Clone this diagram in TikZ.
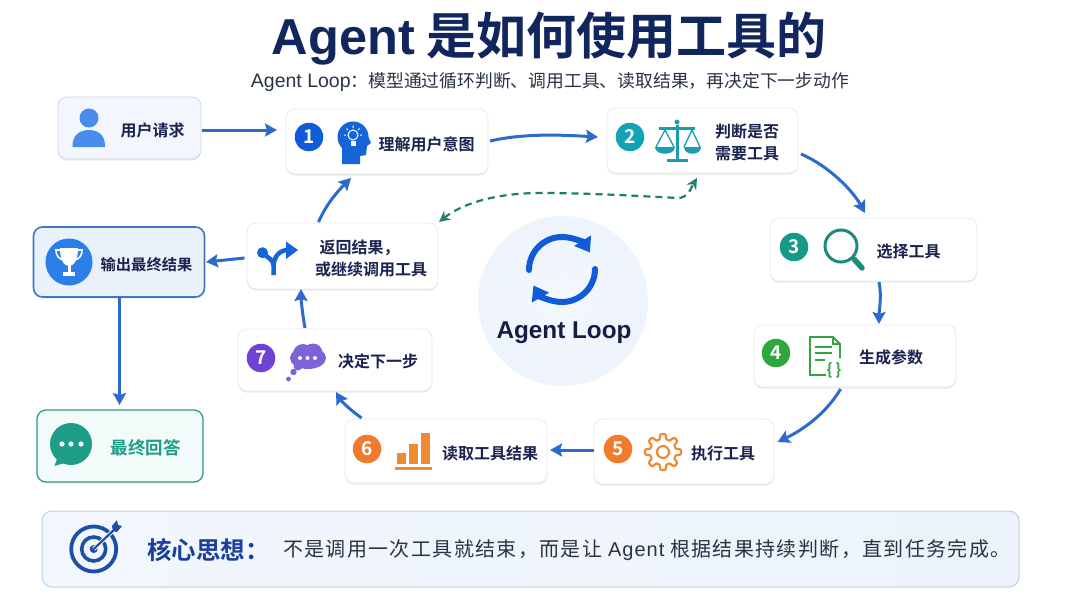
\documentclass[tikz,border=0pt]{standalone}
\usepackage{fontspec}
\setmainfont{Noto Sans CJK SC}[BoldFont={Noto Sans CJK SC Bold}]
\newfontfamily\latinf{Liberation Sans}
\newfontfamily\spacedf{Noto Sans CJK SC}[LetterSpace=6.8]
\newfontfamily\spacedlat{Liberation Sans}[LetterSpace=5]
\newcommand{\fwcomma}{\char"FF0C\relax}
\newcommand{\fwcolon}{\char"FF1A\relax}
\usetikzlibrary{arrows.meta,shadows,calc}
\definecolor{navy}{HTML}{1B2350}
\definecolor{titlec}{HTML}{12265E}
\definecolor{loopc}{HTML}{161D45}
\definecolor{subc}{HTML}{2A3345}
\definecolor{flow}{HTML}{2C6BCB}
\definecolor{dashc}{HTML}{1F7F6C}
\definecolor{c1}{HTML}{0F5BD8}
\definecolor{c2}{HTML}{12A3B5}
\definecolor{c3}{HTML}{149A86}
\definecolor{c4}{HTML}{2EA83E}
\definecolor{c5}{HTML}{F07B2C}
\definecolor{c7}{HTML}{6F42D6}
\definecolor{iconb}{HTML}{1565D8}
\definecolor{icont}{HTML}{1A9DAF}
\definecolor{iconm}{HTML}{1E8A7A}
\definecolor{icond}{HTML}{36A24A}
\definecolor{icono}{HTML}{EE8A33}
\definecolor{iconp}{HTML}{7C63DA}
\definecolor{icont2}{HTML}{1E9E86}
\definecolor{target}{HTML}{1E4FA8}
\definecolor{discout}{HTML}{EEF4FC}
\definecolor{discin}{HTML}{F3F7FD}
\definecolor{userfill}{HTML}{F3F7FD}
\definecolor{userline}{HTML}{CBD8EA}
\definecolor{outfill}{HTML}{E9F1FB}
\definecolor{outline}{HTML}{3F78C6}
\definecolor{finalfill}{HTML}{F3FAFA}
\definecolor{finalline}{HTML}{2E9C8A}
\definecolor{banline}{HTML}{B7D3E4}
\definecolor{banl}{HTML}{F1F7FC}
\definecolor{banr}{HTML}{EDF3FB}
\definecolor{banhead}{HTML}{1A3F9E}
\definecolor{usericon}{HTML}{4A8CEB}
\definecolor{trophyc}{HTML}{2C7FE8}
\tikzset{
  box/.style={draw=black!8,line width=.8pt,fill=white,rounded corners=9pt,inner sep=0pt,outer sep=0pt,
    drop shadow={shadow xshift=0pt,shadow yshift=-1.6pt,fill=black!40,opacity=.22}},
  badge/.style={circle,fill=#1,text=white,font=\bfseries\fontsize{19}{19}\selectfont,minimum size=28.5pt,inner sep=0pt},
  lbl/.style={text=navy,font=\bfseries\fontsize{16}{22}\selectfont,inner sep=0pt,yshift=-1pt},
  flowline/.style={draw=flow,line width=3pt,-{Stealth[length=12pt,width=13pt,inset=2pt]}},
}
\begin{document}
\begin{tikzpicture}[x=1pt,y=-1pt]
\useasboundingbox (0,0) rectangle (1080,608);
\fill[white] (0,0) rectangle (1080,608);
% centre disc
\node[circle,minimum size=170pt,inner sep=0pt,inner color=discin,outer color=discout] (disc) at (563,301) {};
% boxes
\node[box,draw=userline,fill=userfill,minimum width=143pt,minimum height=62pt] (user) at (129.5,128) {};
\node[box,minimum width=202pt,minimum height=65pt] (n1) at (387,141.5) {};
\node[box,minimum width=191pt,minimum height=65pt] (n2) at (702.5,140.5) {};
\node[box,minimum width=207pt,minimum height=63pt] (n3) at (873.5,249.5) {};
\node[box,minimum width=202pt,minimum height=62pt] (n4) at (855,356) {};
\node[box,minimum width=180pt,minimum height=65pt] (n5) at (684,451.5) {};
\node[box,minimum width=202pt,minimum height=64pt] (n6) at (446,451) {};
\node[box,minimum width=194pt,minimum height=62pt] (n7) at (335,360) {};
\node[box,minimum width=191pt,minimum height=66pt] (ret) at (342.5,256) {};
\node[box,draw=outline,line width=1.6pt,fill=outfill,minimum width=171pt,minimum height=70pt] (out) at (119,262) {};
\node[box,draw=finalline,line width=1.3pt,fill=finalfill,minimum width=166pt,minimum height=72pt] (final) at (120,446) {};
\node[draw=banline,line width=1pt,rounded corners=10pt,left color=banl,right color=banr,minimum width=977pt,minimum height=76pt,inner sep=0pt] (banner) at (530.5,549) {};
% connectors
\draw[flowline] ([shift={(1,2)}]user.east) -- ([shift={(-9,-11.5)}]n1.west);
\draw[flowline] ([shift={(2,-0.5)}]n1.east) .. controls +(35,-8) and +(-35,-2) .. ([shift={(-9,-3.5)}]n2.west);
\draw[flowline] ([shift={(3,13.5)}]n2.east) .. controls +(28,12) and +(-12,-22) .. ([shift={(-8.5,-5)}]n3.north);
\draw[flowline] ([shift={(5.5,1)}]n3.south) .. controls +(3,14) and +(0,-12) .. ([shift={(24,-1)}]n4.north);
\draw[flowline] ([shift={(-14.4,2)}]n4.south) .. controls +(-15,25) and +(25,-12) .. ([shift={(3.6,-9.5)}]n5.east);
\draw[flowline] ([shift={(0,-1.5)}]n5.west) -- ([shift={(3,-1)}]n6.east);
\draw[flowline] ([shift={(-84.4,-1)}]n6.north) .. controls +(-10,-7) and +(6,10) .. ([shift={(1,1)}]n7.south);
\draw[flowline] ([shift={(-30,-1)}]n7.north) .. controls +(-2,-10) and +(0,10) .. ([shift={(-41.5,0)}]ret.south);
\draw[flowline] ([shift={(-24,-1)}]ret.north) .. controls +(8,-18) and +(-14,14) .. ([shift={(-36,4)}]n1.south);
\draw[flowline] ([shift={(-2.5,2)}]ret.west) -- ([shift={(1.5,0)}]out.east);
\draw[flowline] ([shift={(.5,0)}]out.south) -- ([shift={(-.5,-5)}]final.north);
\coordinate (d1) at (540,193);
\coordinate (d2) at (678,198);
\draw[dashc,line width=2.2pt,dash pattern=on 7pt off 5pt,{Stealth[open,length=11pt,width=11pt]}-{Stealth[open,length=11pt,width=11pt]}]
  ([shift={(1,-1)}]ret.north east) .. controls +(25,-20) and +(-40,0) .. (d1)
  .. controls +(50,0) and +(-40,-2) .. (d2) .. controls +(10,0) and +(-6,10) .. ([shift={(-5.5,5)}]n2.south);
% title
\node[anchor=base,text=titlec,font=\bfseries\fontsize{50}{50}\selectfont,inner sep=0pt] (title) at (549,54.5) {{\latinf\bfseries\fontsize{50.5}{50}\selectfont Agent} 是如何使用工具的};
\node[anchor=base,text=subc,font=\fontsize{17.8}{20}\selectfont,inner sep=0pt] (subtitle) at (550,87.5) {{\latinf\fontsize{19.5}{20}\selectfont Agent Loop}\fwcolon 模型通过循环判断、调用工具、读取结果\fwcomma 再决定下一步动作};
% badges
\node[badge=c1] (b1) at (309,137) {1};
\node[badge=c2] (b2) at (630,137) {2};
\node[badge=c3] (b3) at (794,247) {3};
\node[badge=c4] (b4) at (776,353) {4};
\node[badge=c5] (b5) at (618,449) {5};
\node[badge=c5] (b6) at (367,449) {6};
\node[badge=c7] (b7) at (261,358) {7};
% user icon
\fill[usericon] (89,118) circle[radius=9.5pt];
\fill[usericon] (72.5,147) .. controls (72,135) and (80,130) .. (89,130) .. controls (98,130) and (105.5,135) .. (105,147) -- cycle;
% head icon
\fill[iconb] (353,137) circle[radius=15.5pt];
\fill[iconb] (342,147) -- (342,164) -- (360,164) -- (360,156) -- (366,155) -- (367,146) -- (371,143) -- (367,134) -- cycle;
\draw[white,line width=1pt] (353,135) circle[radius=5pt];
\fill[white] (350.5,141) rectangle (355.5,146);
\draw[white,line width=1pt] (353,125.5) -- (353,128) (344,135) -- (346,135) (360,135) -- (362,135) (346.5,128.5) -- (348,130) (359.5,128.5) -- (358,130);
% scales
\draw[icont,line width=3pt] (677,125) -- (677,160);
\draw[icont,line width=3pt] (659,128) -- (695,128);
\fill[icont] (677,122) circle[radius=2.5pt];
\draw[icont,line width=3.5pt] (667,160.5) -- (688,160.5);
\draw[icont,line width=1.3pt] (656,147) -- (665,130) -- (674,147) (684,147) -- (692,130) -- (700,147);
\fill[icont] (655,147) -- (675,147) .. controls (675,156) and (655,156) .. cycle;
\fill[icont] (684,147) -- (700.5,147) .. controls (700.5,156) and (684,156) .. cycle;
% magnifier
\draw[iconm,line width=3pt] (841,246) circle[radius=16pt];
\draw[iconm,line width=5.5pt,line cap=round] (854,259) -- (862,268);
% doc
\draw[icond,line width=1.8pt] (826,375) -- (810,375) -- (810,337) -- (833,337) -- (840,344) -- (840,358);
\draw[icond,line width=1.5pt] (833,337) -- (833,344) -- (840,344);
\draw[icond,line width=1.8pt] (815,347) -- (832,347) (815,353) -- (832,353) (815,360) -- (825,360);
\node[text=icond,font=\bfseries\fontsize{16}{16}\selectfont,inner sep=0pt] (docbrace) at (834,370) {\{\,\}};
% gear
\begin{scope}[shift={(663,452)}]
\draw[icono,line width=2.2pt,line join=round] plot[domain=0:360,samples=241,variable=\t] ({\t}:{15.5+2.6*tanh(2.4*cos(8*\t))}) -- cycle;
\draw[icono,line width=2.2pt] (0,0) circle[radius=6pt];
\end{scope}
% bars
\fill[icono] (397,453) rectangle (405.6,464);
\fill[icono] (409,444) rectangle (418,464);
\fill[icono] (421,433) rectangle (430,464);
\fill[icono] (395,466.5) rectangle (432,469.5);
% thought bubble
\fill[iconp] (308,358) ellipse[x radius=18pt,y radius=11pt];
\fill[iconp] (303,354) circle[radius=10pt];
\fill[iconp] (313,353) circle[radius=9.5pt];
\fill[iconp] (298,366) circle[radius=4.5pt];
\fill[iconp] (293.5,372) circle[radius=3.2pt];
\fill[iconp] (288.5,379) circle[radius=2.4pt];
\fill[white] (300,358) circle[radius=2pt] (307.5,358) circle[radius=2pt] (315,358) circle[radius=2pt];
% fork
\fill[iconb] (262.5,252.7) circle[radius=5.5pt];
\draw[iconb,line width=4.5pt] (273.5,275) -- (273.5,265) .. controls (273.5,260) and (268,258) .. (263,253);
\draw[iconb,line width=4.5pt] (273.5,266) .. controls (274,256) and (280,250) .. (288,250);
\fill[iconb] (286,241.5) -- (298,250) -- (286,259) -- cycle;
% trophy
\fill[trophyc] (69,262) circle[radius=23.5pt];
\fill[white] (60,248) -- (78,248) .. controls (78,260) and (74,266) .. (69,266) .. controls (64,266) and (60,260) .. (60,248) -- cycle;
\draw[white,line width=1.6pt] (60,250) -- (56,250) .. controls (56,257) and (60,259) .. (63,260);
\draw[white,line width=1.6pt] (78,250) -- (82,250) .. controls (82,257) and (78,259) .. (75,260);
\fill[white] (67.5,265) rectangle (70.5,272);
\fill[white] (63,272) rectangle (75,275.5);
% chat
\fill[icont2] (71,444) circle[radius=21pt];
\fill[icont2] (58,456) -- (54.5,466) -- (68,462) -- cycle;
\fill[white] (62,444) circle[radius=2.6pt] (71,444) circle[radius=2.6pt] (81,444) circle[radius=2.6pt];
% target
\draw[target,line width=3.8pt] (93.7,549) circle[radius=22.5pt];
\draw[target,line width=3.6pt] (93.7,549) circle[radius=12pt];
\fill[target] (93.7,549) circle[radius=4pt];
\draw[white,line width=4pt] (93.7,549) -- (117,527);
\draw[target,line width=2.2pt] (93.7,549) -- (116,528);
\fill[target] (112,526) -- (117,520) -- (118,525) -- (122,526) -- (117,532) -- (113,531) -- cycle;
% sync
\draw[c1,line width=6pt,line cap=round,-{Triangle[length=14pt,width=19pt]}] (529,270) arc[start angle=180,end angle=32,radius=33pt];
\draw[c1,line width=6pt,line cap=round,-{Triangle[length=14pt,width=19pt]}] (595,269) arc[start angle=0,end angle=-150,radius=33pt];
\node[anchor=base,text=loopc,font=\latinf\bfseries\fontsize{24.3}{26}\selectfont,inner sep=0pt] (looplbl) at (564,338) {Agent Loop};
% labels
\node[lbl] (tuser) at (152.5,129) {用户请求};
\node[lbl] (t1) at (426.5,143) {理解用户意图};
\node[lbl,align=center] (t2) at (747,141) {判断是否\\需要工具};
\node[lbl] (t3) at (908.5,251) {选择工具};
\node[lbl] (t4) at (891,356) {生成参数};
\node[lbl] (t5) at (723,452) {执行工具};
\node[lbl] (t6) at (490,452) {读取工具结果};
\node[lbl] (t7) at (378,360) {决定下一步};
\node[lbl,align=left,anchor=west] (tret) at (315,257.5) {\hspace{4.5pt}返回结果\fwcomma\\或继续调用工具};
\node[lbl,font=\bfseries\fontsize{15.3}{20}\selectfont] (tout) at (146.5,264) {输出最终结果};
\node[lbl,text=icont2,font=\bfseries\fontsize{17.5}{20}\selectfont] (tfinal) at (145.7,447) {最终回答};
\node[anchor=west,inner sep=0pt,text=banhead,font=\bfseries\fontsize{24.5}{26}\selectfont] (bhead) at (147,550) {核心思想\fwcolon};
\node[anchor=west,inner sep=0pt,text=subc,font=\spacedf\fontsize{20}{24}\selectfont] (btext) at (283,550) {不是调用一次工具就结束\fwcomma 而是让 {\spacedlat Agent} 根据结果持续判断\fwcomma 直到任务完成。};
\end{tikzpicture}
\end{document}
